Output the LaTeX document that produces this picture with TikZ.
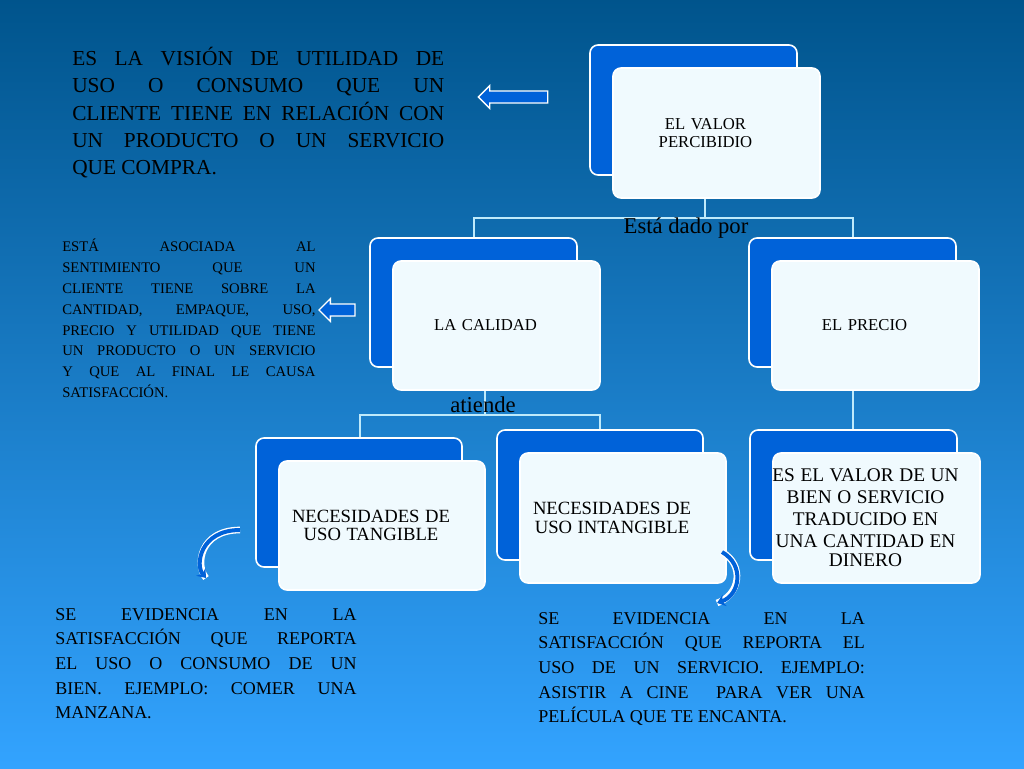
\documentclass[tikz,border=0pt]{standalone}
\usepackage{fontspec}
\setmainfont{Liberation Serif}
\usetikzlibrary{arrows.meta,shapes.arrows}

\tikzset{
  backbox/.style={draw=white,line width=1.2pt,fill=blue!55!cyan!85!black,rounded corners=6pt},
  frontbox/.style={draw=white,line width=1.2pt,fill=cyan!6,rounded corners=6pt},
  boxtext/.style={align=center,font=\fontsize{12.5}{14}\selectfont,text width=150pt},
  note/.style={align=justify,anchor=north west,inner sep=0pt},
  link/.style={draw=cyan!25,line width=0.8pt},
  leftarrow/.style={single arrow,shape border rotate=180,draw=white,line width=1pt,
    fill=blue!55!cyan!85!black,minimum height=#1,single arrow head extend=4pt,inner xsep=1.5pt,inner ysep=4pt},
  bendarrow/.style={line width=3pt,draw=blue!55!cyan!85!black,-{Stealth[length=6pt,width=9pt]}}
}
\newcommand{\pairbox}[6]{% name, x1,y1,x2,y2, text
  \fill[backbox] (#2,#3) rectangle (#4,#5);
  \fill[frontbox] (#2+23,#3+23) rectangle (#4+23,#5+23);
  \node[boxtext] (#1) at ({(#2+#4)/2+12},{(#3+#5)/2+23}) {#6};
}

\begin{document}
\hyphenpenalty=10000
\begin{tikzpicture}[x=0.75pt,y=-0.75pt]
\shade[top color=blue!40!cyan!55!black,bottom color=cyan!55!blue!80] (0,0) rectangle (1024,768);
\useasboundingbox (0,0) rectangle (1024,768);

% connectors
\draw[link] (705,197) -- (705,218) coordinate (t1);
\draw[link] (474,238) |- (t1) -| (853,238);
\draw[link] (485,390) -- (485,415) coordinate (t2);
\draw[link] (360,438) |- (t2) -| (600,430);
\draw[link] (853,390) -- (853,430);

% boxes
\pairbox{valor}{590}{45}{797}{175}{EL VALOR\\PERCIBIDIO}
\pairbox{calidad}{370}{238}{577}{367}{LA CALIDAD}
\pairbox{precio}{749}{238}{956}{367}{EL PRECIO}
\pairbox{tangible}{256}{438}{462}{567}{\fontsize{14}{16}\selectfont NECESIDADES DE\\USO TANGIBLE}
\pairbox{intangible}{497}{430}{703}{560}{\fontsize{14}{16}\selectfont NECESIDADES DE\\USO INTANGIBLE}
\pairbox{dinero}{750}{430}{957}{560}{\fontsize{14.5}{16.5}\selectfont ES EL VALOR DE UN\\BIEN O SERVICIO\\TRADUCIDO EN\\UNA CANTIDAD EN\\DINERO}

\node (dado) at (686,228) {\fontsize{17}{19}\selectfont Está dado por};
\node (atiende) at (483,405) {\fontsize{17}{19}\selectfont atiende};

% notes
\node[note,text width=279pt,font=\fontsize{16}{20.5}\selectfont] (n1) at (72,47)
  {ES LA VISIÓN DE UTILIDAD DE\linebreak USO O CONSUMO QUE UN\linebreak CLIENTE TIENE EN RELACIÓN CON\linebreak UN PRODUCTO O UN SERVICIO\linebreak QUE COMPRA.};
\node[note,text width=190pt,font=\fontsize{11}{15.6}\selectfont] (n2) at (62,239)
  {ESTÁ ASOCIADA AL\linebreak SENTIMIENTO QUE UN\linebreak CLIENTE TIENE SOBRE LA\linebreak CANTIDAD, EMPAQUE, USO,\linebreak PRECIO Y UTILIDAD QUE TIENE\linebreak UN PRODUCTO O UN SERVICIO\linebreak Y QUE AL FINAL LE CAUSA\linebreak SATISFACCIÓN.};
\node[note,text width=226pt,font=\fontsize{13.5}{18.5}\selectfont] (n3) at (55,608)
  {SE EVIDENCIA EN LA\linebreak SATISFACCIÓN QUE REPORTA\linebreak EL USO O CONSUMO DE UN\linebreak BIEN. EJEMPLO: COMER UNA\linebreak MANZANA.};
\node[note,text width=245pt,font=\fontsize{13.5}{18.5}\selectfont] (n4) at (538,612)
  {SE EVIDENCIA EN LA\linebreak SATISFACCIÓN QUE REPORTA EL\linebreak USO DE UN SERVICIO. EJEMPLO:\linebreak ASISTIR A CINE\ \ PARA VER UNA\linebreak PELÍCULA QUE TE ENCANTA.};

% arrows
\node[leftarrow=52pt] (a1) at (516,97) {};
\node[leftarrow=27pt] (a2) at (340,310) {};
\draw[line width=5pt,white] (240,530) .. controls (200,530) and (195,565) .. (206,578);
\draw[bendarrow] (240,530) .. controls (200,530) and (195,565) .. (206,578);
\draw[line width=5pt,white] (722,552) .. controls (745,565) and (740,595) .. (717,603);
\draw[bendarrow] (722,552) .. controls (745,565) and (740,595) .. (717,603);
\end{tikzpicture}
\end{document}
